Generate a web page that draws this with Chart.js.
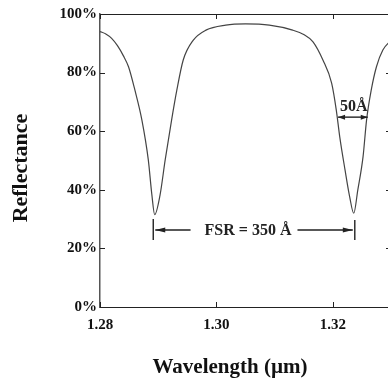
<!DOCTYPE html>
<html>
<head>
<meta charset="utf-8">
<script src="https://cdn.jsdelivr.net/npm/chart.js@4"></script>
<style>
  html, body { margin: 0; padding: 0; background: #fff; overflow: hidden; }
  #wrap { width: 392px; height: 379px; }
</style>
</head>
<body>
<div id="wrap"><canvas id="chart1" width="392" height="379"></canvas></div>
<script>
// Datos
const wavelength = [1.2800, 1.2810, 1.2820, 1.2830, 1.2840, 1.2849, 1.2860, 1.2872, 1.2883, 1.2889,
    1.2894, 1.2903, 1.2912, 1.2923, 1.2932, 1.2943, 1.2960, 1.2982, 1.3016, 1.3050,
    1.3091, 1.3131, 1.3150, 1.3166, 1.3183, 1.3198, 1.3206, 1.3212, 1.3221, 1.3229,
    1.3236, 1.3243, 1.3252, 1.3258, 1.3266, 1.3275, 1.3286, 1.3300];
const reflectance = [94.0, 93.2, 91.7, 89.2, 85.8, 82.0, 74.0, 63.8, 50.2, 38.5,
    31.5, 38.0, 50.2, 63.8, 74.0, 84.3, 91.0, 94.5, 96.2, 96.6,
    96.2, 94.5, 93.0, 90.5, 84.3, 76.4, 67.2, 58.0, 46.8, 37.6,
    32.0, 40.0, 51.3, 63.8, 74.0, 82.0, 87.7, 91.0];

const xTicks = [1.28, 1.30, 1.32];
const yTicks = [0, 20, 40, 60, 80, 100];

// Anotaciones (en unidades de los ejes)
const fsrMarks = [1.28915, 1.32378];
const fsrLevel = 26.3;
const fsrLabel = "FSR = 350 Å";
const fwhmMarks = [1.3209, 1.3260];
const fwhmLevel = 64.8;
const fwhmLabel = "50Å";

const xTitle = "Wavelength (µm)";
const yTitle = "Reflectance";

const serif = "'Liberation Serif', 'DejaVu Serif', serif";
const ink = "#222";

function flecha(ctx, x, y, dir, largo) {
    // punta de flecha rellena, dir = -1 izquierda, 1 derecha
    ctx.beginPath();
    ctx.moveTo(x, y);
    ctx.lineTo(x - dir * largo, y - 2.5);
    ctx.lineTo(x - dir * largo, y + 2.5);
    ctx.closePath();
    ctx.fill();
}

const extras = {
    id: "extras",
    afterDraw(chart) {
        const ctx = chart.ctx;
        const a = chart.chartArea;
        const sx = chart.scales.x;
        const sy = chart.scales.y;
        ctx.save();
        ctx.strokeStyle = ink;
        ctx.fillStyle = ink;
        ctx.lineWidth = 1;

        // borde superior y derecho
        ctx.beginPath();
        ctx.moveTo(a.left, a.top + 0.5);
        ctx.lineTo(a.right, a.top + 0.5);
        ctx.moveTo(a.right - 0.5, a.top);
        ctx.lineTo(a.right - 0.5, a.bottom);
        ctx.stroke();

        // marcas hacia adentro
        ctx.beginPath();
        xTicks.forEach(function (v) {
            const px = Math.round(sx.getPixelForValue(v)) + 0.5;
            ctx.moveTo(px, a.bottom);
            ctx.lineTo(px, a.bottom - 5);
            ctx.moveTo(px, a.top);
            ctx.lineTo(px, a.top + 5);
        });
        yTicks.forEach(function (v) {
            const py = Math.round(sy.getPixelForValue(v)) + 0.5;
            ctx.moveTo(a.left, py);
            ctx.lineTo(a.left + 5, py);
            ctx.moveTo(a.right, py);
            ctx.lineTo(a.right - 5, py);
        });
        ctx.stroke();

        // FSR
        const f1 = sx.getPixelForValue(fsrMarks[0]);
        const f2 = sx.getPixelForValue(fsrMarks[1]);
        const fy = sy.getPixelForValue(fsrLevel);
        ctx.font = "bold 16px " + serif;
        const tw = ctx.measureText(fsrLabel).width;
        const mid = (f1 + f2) / 2 - 6;
        ctx.lineWidth = 1.4;
        ctx.beginPath();
        ctx.moveTo(f1, fy - 11);
        ctx.lineTo(f1, fy + 10);
        ctx.moveTo(f2, fy - 10);
        ctx.lineTo(f2, fy + 10);
        ctx.moveTo(f1 + 2, fy);
        ctx.lineTo(mid - tw / 2 - 14, fy);
        ctx.moveTo(mid + tw / 2 + 6, fy);
        ctx.lineTo(f2 - 2, fy);
        ctx.stroke();
        flecha(ctx, f1 + 2, fy, -1, 10);
        flecha(ctx, f2 - 2, fy, 1, 10);
        ctx.textAlign = "center";
        ctx.textBaseline = "middle";
        ctx.fillText(fsrLabel, mid, fy + 1);

        // ancho 50 A
        const w1 = sx.getPixelForValue(fwhmMarks[0]);
        const w2 = sx.getPixelForValue(fwhmMarks[1]);
        const wy = sy.getPixelForValue(fwhmLevel);
        ctx.beginPath();
        ctx.moveTo(w1, wy);
        ctx.lineTo(w2, wy);
        ctx.stroke();
        flecha(ctx, w1, wy, -1, 7);
        flecha(ctx, w2, wy, 1, 7);
        ctx.textBaseline = "alphabetic";
        ctx.font = "bold 16px " + serif;
        ctx.fillText(fwhmLabel, (w1 + w2) / 2 + 1, wy - 6);

        // titulos de los ejes
        ctx.fillStyle = "#111";
        ctx.font = "bold 21px " + serif;
        ctx.textAlign = "center";
        ctx.fillText(xTitle, 230, 373);
        ctx.save();
        ctx.translate(27, 168);
        ctx.rotate(-Math.PI / 2);
        ctx.font = "bold 22px " + serif;
        ctx.fillText(yTitle, 0, 0);
        ctx.restore();

        ctx.restore();
    }
};

const puntos = wavelength.map(function (x, i) {
    return { x: x, y: reflectance[i] };
});

new Chart("chart1", {
    type: "line",
    data: {
        datasets: [{
            data: puntos,
            borderColor: "#444",
            borderWidth: 1.2,
            pointRadius: 0,
            cubicInterpolationMode: "monotone",
            fill: false
        }]
    },
    options: {
        responsive: false,
        animation: false,
        events: [],
        layout: { padding: { left: 0, top: 14, right: 1, bottom: 0 } },
        plugins: {
            legend: { display: false },
            tooltip: { enabled: false }
        },
        scales: {
            x: {
                type: "linear",
                min: 1.28,
                max: 1.33,
                afterBuildTicks: function (scale) {
                    scale.ticks = xTicks.map(function (v) { return { value: v }; });
                },
                afterFit: function (scale) { scale.height = 72; },
                grid: { display: false, drawTicks: false },
                border: { display: true, color: ink, width: 1 },
                ticks: {
                    padding: 9,
                    maxRotation: 0,
                    color: "#111",
                    font: { family: serif, size: 15, weight: "bold" },
                    callback: function (v) { return v.toFixed(2); }
                }
            },
            y: {
                min: 0,
                max: 100,
                afterBuildTicks: function (scale) {
                    scale.ticks = yTicks.map(function (v) { return { value: v }; });
                },
                afterFit: function (scale) { scale.width = 100; },
                grid: { display: false, drawTicks: false },
                border: { display: true, color: "#555", width: 1.5 },
                ticks: {
                    padding: 3,
                    color: "#111",
                    font: { family: serif, size: 15, weight: "bold" },
                    callback: function (v) { return v + "%"; }
                }
            }
        }
    },
    plugins: [extras]
});
</script>
</body>
</html>
